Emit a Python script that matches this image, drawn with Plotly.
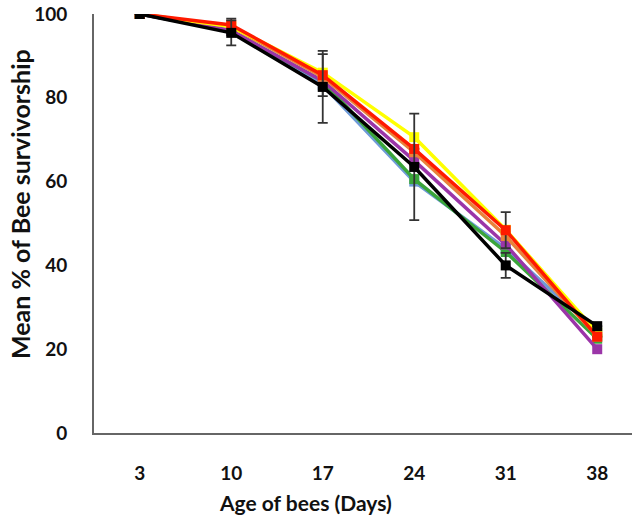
import plotly.graph_objects as go

days = ["3", "10", "17", "24", "31", "38"]

blue = [100, 96, 83, 60, 44, 24]
green = [100, 96, 84, 60.6, 43.2, 22.5]
purple = [100, 96, 84, 65, 45, 20]
orange = [100, 97, 85, 67, 47, 23]
yellow = [100, 97, 86, 70.6, 48.5, 24]
red = [100, 97.4, 85.4, 67.8, 48.4, 23]
red_err = [0, 1.5, 5, 0, 4.3, 0]
black = [100, 95.5, 82.6, 63.5, 40, 25.5]
black_err = [0, 3, 8.6, 12.7, 3, 0]

series = [
    ("blue", blue, "#6f9bd8", None),
    ("green", green, "#3aa53a", None),
    ("purple", purple, "#9b35a8", None),
    ("orange", orange, "#e8823a", None),
    ("yellow", yellow, "#ffff00", None),
    ("red", red, "#ff1a00", red_err),
    ("black", black, "#000000", black_err),
]

fig = go.Figure()
for name, vals, col, err in series:
    kw = {}
    if err is not None:
        kw["error_y"] = dict(type="data", array=err, visible=True,
                             color="#333333", thickness=1.8, width=5)
    fig.add_trace(go.Scatter(
        x=days, y=vals, name=name, mode="lines+markers",
        line=dict(color=col, width=3.5),
        marker=dict(symbol="square", size=10, color=col),
        showlegend=False, **kw))

fnt = "Lato, 'Open Sans', sans-serif"
fig.update_layout(
    width=632, height=517,
    margin=dict(l=94, r=0, t=14, b=84),
    plot_bgcolor="white", paper_bgcolor="white",
    font=dict(family=fnt, color="#111111"),
    xaxis=dict(type="category", range=[-0.5, 5.38], showgrid=False,
               showline=True, linecolor="#666666", linewidth=2,
               ticks="", ticklabelstandoff=22,
               tickfont=dict(size=19, family=fnt, weight="bold")),
    yaxis=dict(range=[0, 100], tickvals=[0, 20, 40, 60, 80, 100],
               showgrid=False, zeroline=False,
               showline=True, linecolor="#666666", linewidth=2,
               ticks="", ticklabelstandoff=21,
               tickfont=dict(size=19, family=fnt, weight="bold")),
    annotations=[
        dict(text="<b>Age of bees (Days)</b>", xref="paper", yref="paper",
             x=(305 - 94) / 538, y=-70 / 419, xanchor="center", yanchor="middle",
             showarrow=False, font=dict(size=21, family=fnt)),
        dict(text="<b>Mean % of Bee survivorship</b>", xref="paper", yref="paper",
             x=-74 / 538, y=(433 - 204) / 419, xanchor="center", yanchor="middle",
             textangle=-90, showarrow=False, font=dict(size=25, family=fnt)),
    ],
)

fig.write_html("out.html", config={"displayModeBar": False},
               post_script="document.body.style.margin='0';")
